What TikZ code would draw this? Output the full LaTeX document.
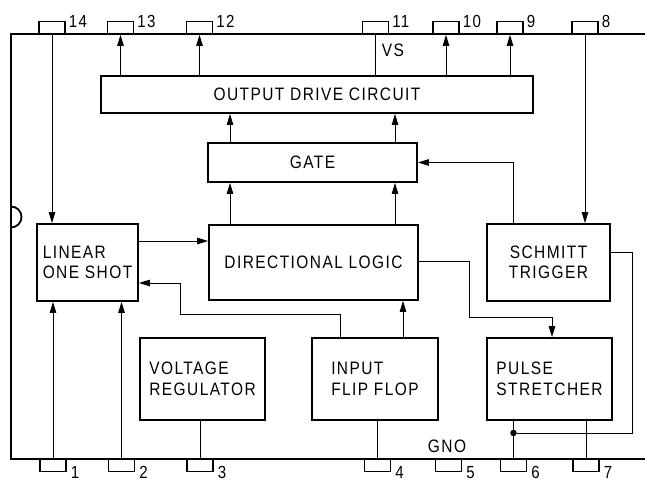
\documentclass[tikz,border=0pt]{standalone}
\usepackage{fontspec}
\setmainfont{Liberation Sans}[FakeStretch=0.86,LetterSpace=8]
\usetikzlibrary{arrows.meta,calc}
\begin{document}
\begin{tikzpicture}[x=1pt,y=-1pt,
  box/.style 2 args={draw,line width=1.8pt,minimum width=#1,minimum height=#2,inner sep=0pt,align=left,font=\fontsize{18}{20.5}\selectfont},
  pin/.style={draw,line width=1.2pt,minimum width=26pt,minimum height=12.5pt,inner sep=0pt},
  num/.style={inner sep=0pt,font=\fontsize{17.5}{17.5}\selectfont},
  lbl/.style={inner sep=0pt,font=\fontsize{18}{18}\selectfont},
  wire/.style={line width=0.8pt},
  arr/.style={wire,-{Triangle[length=11pt,width=6.5pt]}},
  outline/.style={line width=1.8pt}]
\useasboundingbox (0,0) rectangle (645,482);
% chip outline
\draw[outline] (645,34) -- (11,34) -- (11,227.5) arc[start angle=90,end angle=-90,radius=10.5] -- (11,459) -- (645,459);
% pins top
\node[pin] (p14) at (52,28) {};
\node[pin] (p13) at (120.5,28) {};
\node[pin] (p12) at (199.5,28) {};
\node[pin] (p11) at (375.5,28) {};
\node[pin] (p10) at (446,28) {};
\node[pin] (p9) at (510,28) {};
\node[pin] (p8) at (585,28) {};
% pins bottom
\node[pin] (p1) at (53,465.5) {};
\node[pin] (p2) at (121.5,465.5) {};
\node[pin] (p3) at (200,465.5) {};
\node[pin] (p4) at (377.5,465.5) {};
\node[pin] (p5) at (448.5,465.5) {};
\node[pin] (p6) at (513.5,465.5) {};
\node[pin] (p7) at (586,465.5) {};
% pin numbers
\foreach \p/\t in {p14/14,p13/13,p12/12,p11/11,p10/10,p9/9,p8/8}
  \node[num,anchor=base west] (n\p) at ([xshift=3pt,yshift=-6pt]\p.north east) {\t};
\foreach \p/\t in {p1/1,p2/2,p3/3,p4/4,p5/5,p6/6,p7/7}
  \node[num,anchor=base west] (n\p) at ([xshift=4pt,yshift=-6pt]\p.south east) {\t};
% blocks
\node[box={432pt}{37pt}] (out) at (317,94.5) {OUTPUT DRIVE CIRCUIT};
\node[box={209pt}{39pt}] (gate) at (312.5,162.5) {GATE};
\node[box={209pt}{75pt}] (dl) at (313.5,262.5) {DIRECTIONAL LOGIC};
\node[box={101pt}{77pt}] (los) at (87.5,262.5) {LINEAR\\ONE SHOT};
\node[box={123pt}{77pt},align=center] (st) at (548.5,262.5) {SCHMITT\\TRIGGER};
\node[box={125pt}{82pt}] (vr) at (202.5,379) {VOLTAGE\\REGULATOR};
\node[box={126pt}{82pt}] (iff) at (375,379) {INPUT\\FLIP FLOP};
\node[box={125pt}{82pt}] (ps) at (549.5,379) {PULSE\\STRETCHER};
% labels
\node[lbl] (vs) at (393,50) {VS};
\node[lbl] (gno) at (447,446) {GNO};
% helper coordinates
\coordinate (cA) at (230,0);
\coordinate (cB) at (395,0);
\coordinate (cS) at (513,0);
\coordinate (yL) at (0,241);
\coordinate (cI) at (340,0);
\coordinate (b1) at (180,314);
\coordinate (b2) at (0,283);
\coordinate (cK) at (403,0);
\coordinate (b3) at (0,261);
\coordinate (b4) at (469,317);
\coordinate (cP) at (552,0);
\coordinate (b5) at (0,252);
\coordinate (b6) at (632,433);
\node[circle,fill,inner sep=0pt,minimum size=6.5pt] (dot) at (513.5,433) {};
% top connections
\draw[arr] (p14.south) -- (p14.south |- los.north);
\draw[arr] (out.north -| p13) -- (p13.south);
\draw[arr] (out.north -| p12) -- (p12.south);
\draw[wire] (p11.south) -- (out.north -| p11);
\draw[arr] (out.north -| p10) -- (p10.south);
\draw[arr] (out.north -| p9) -- (p9.south);
\draw[arr] (p8.south) -- (p8.south |- st.north);
% gate / output
\draw[arr] (gate.north -| cA) -- (out.south -| cA);
\draw[arr] (gate.north -| cB) -- (out.south -| cB);
\draw[arr] (dl.north -| cA) -- (gate.south -| cA);
\draw[arr] (dl.north -| cB) -- (gate.south -| cB);
\draw[arr] (st.north -| cS) |- (gate.east);
% middle
\draw[arr] (los.east |- yL) -- (dl.west |- yL);
\draw[arr] (iff.north -| cI) |- (b1) |- (los.east |- b2);
\draw[arr] (iff.north -| cK) -- (dl.south -| cK);
\draw[arr] (dl.east |- b3) -| (b4) -| (ps.north -| cP);
\draw[wire] (st.east |- b5) -| (b6) -- (dot);
% bottom
\draw[arr] (p1.north) -- (p1.north |- los.south);
\draw[arr] (p2.north) -- (p2.north |- los.south);
\draw[wire] (vr.south -| p3) -- (p3.north);
\draw[wire] (iff.south -| p4) -- (p4.north);
\draw[wire] (ps.south -| p6) -- (p6.north);
\draw[wire] (ps.south -| p7) -- (p7.north);
\end{tikzpicture}
\end{document}
